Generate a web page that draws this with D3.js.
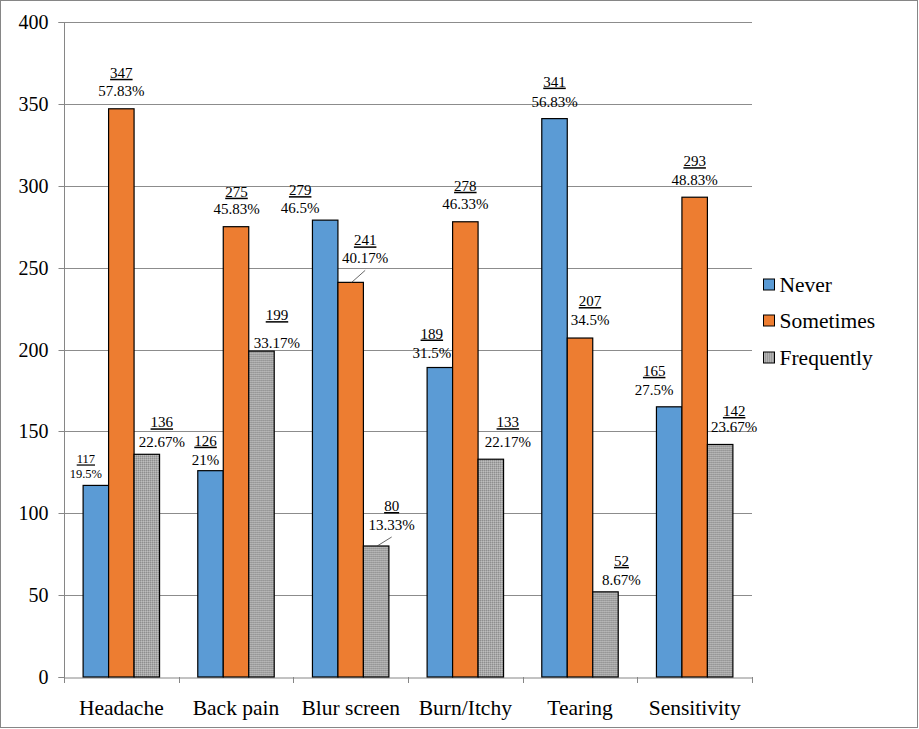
<!DOCTYPE html>
<html>
<head>
<meta charset="utf-8">
<script src="https://cdn.jsdelivr.net/npm/d3@7"></script>
<style>
  html, body { margin: 0; padding: 0; background: #fff; }
  svg text { font-family: "Liberation Serif", "Times New Roman", Times, "DejaVu Serif", serif !important; }
</style>
</head>
<body>
<svg id="chart" width="919" height="729"></svg>
<script>
// ---- data ----
const categories = ["Headache", "Back pain", "Blur screen", "Burn/Itchy", "Tearing", "Sensitivity"];
const seriesNames = ["Never", "Sometimes", "Frequently"];
const never      = [117, 126, 279, 189, 341, 165];
const sometimes  = [347, 275, 241, 278, 207, 293];
const frequently = [136, 199, 80, 133, 52, 142];
const neverPct      = ["19.5%", "21%", "46.5%", "31.5%", "56.83%", "27.5%"];
const sometimesPct  = ["57.83%", "45.83%", "40.17%", "46.33%", "34.5%", "48.83%"];
const frequentlyPct = ["22.67%", "33.17%", "13.33%", "22.17%", "8.67%", "23.67%"];
const yTicks = [0, 50, 100, 150, 200, 250, 300, 350, 400];

// ---- label placement (style, not data): [dx, number baseline above bar top, percent baseline above bar top] ----
const labelPlacement = {
  Never:      [[-10, 22, 7], [-5, 25, 6], [-25, 25, 7], [-8, 29, 10], [0, 32, 12], [-15, 31, 12]],
  Sometimes:  [[0, 31, 13], [0.5, 30, 13], [14.5, 37, 19], [0, 31, 13], [10, 32, 13], [0, 31, 12]],
  Frequently: [[15, 27, 7], [15.5, 31, 3], [15.5, 35, 16], [17, 32, 12], [16, 26, 7], [14, 28.5, 12.5]]
};
const leaderLabels = [["Sometimes", 2], ["Frequently", 2]];
const smallLabels = [["Never", 0]];

const colors = { Never: "#5B9BD5", Sometimes: "#ED7D31", Frequently: "url(#grayDots)" };

const valuesBySeries = { Never: never, Sometimes: sometimes, Frequently: frequently };
const pctBySeries = { Never: neverPct, Sometimes: sometimesPct, Frequently: frequentlyPct };

const svg = d3.select("#chart");

// pattern for gray textured bars
const defs = svg.append("defs");
const pat = defs.append("pattern").attr("id", "grayDots")
  .attr("patternUnits", "userSpaceOnUse").attr("width", 2).attr("height", 2);
pat.append("rect").attr("width", 2).attr("height", 2).attr("fill", "#A8A8A8");
pat.append("rect").attr("x", 0).attr("y", 0).attr("width", 1).attr("height", 1).attr("fill", "#8E8E8E");
pat.append("rect").attr("x", 1).attr("y", 1).attr("width", 1).attr("height", 1).attr("fill", "#BDBDBD");

// outer border
svg.append("rect").attr("x", 0.5).attr("y", 0.5).attr("width", 917).attr("height", 727)
  .attr("fill", "none").attr("stroke", "#868686").attr("stroke-width", 1);

const plotL = 64, plotR = 752, plotT = 22, plotB = 677;

const x0 = d3.scaleBand().domain(categories).range([plotL, plotR]).paddingInner(0).paddingOuter(0);
const x1 = d3.scaleBand().domain(seriesNames).range([0, x0.bandwidth()]).paddingInner(0).paddingOuter(0.75);
const y = d3.scaleLinear().domain([0, 400]).range([plotB, plotT]);

// gridlines
svg.append("g").selectAll("line").data(yTicks.filter(d => d > 0)).join("line")
  .attr("x1", plotL).attr("x2", plotR)
  .attr("y1", d => Math.round(y(d)) + 0.5).attr("y2", d => Math.round(y(d)) + 0.5)
  .attr("stroke", "#8C8C8C").attr("stroke-width", 1);

// y axis
const yAxis = svg.append("g").attr("transform", `translate(${plotL + 0.5},0)`)
  .call(d3.axisLeft(y).tickValues(yTicks).tickSize(6).tickPadding(10).tickFormat(d3.format("d")));
yAxis.attr("font-family", null);
yAxis.select(".domain").attr("stroke", "#868686").attr("d", `M-6,${plotB + 0.5}H0V${plotT + 0.5}H-6`);
yAxis.selectAll(".tick line").attr("stroke", "#868686");
yAxis.selectAll(".tick text").attr("font-size", 20).attr("fill", "#000").attr("dy", "0.34em");
yAxis.selectAll(".tick").attr("transform", d => `translate(0,${Math.round(y(d)) + 0.5})`);

// x axis
const xAxis = svg.append("g").attr("transform", `translate(0,${plotB + 0.5})`)
  .call(d3.axisBottom(x0).tickSize(0).tickPadding(22));
xAxis.attr("font-family", null);
xAxis.select(".domain").attr("stroke", "#868686");
xAxis.selectAll(".tick text").attr("font-size", 21.5).attr("fill", "#000");
// category boundary ticks
const bounds = categories.map(c => x0(c)).concat([plotR]);
svg.append("g").selectAll("line").data(bounds).join("line")
  .attr("x1", d => Math.round(d) + 0.5).attr("x2", d => Math.round(d) + 0.5)
  .attr("y1", plotB).attr("y2", plotB + 6)
  .attr("stroke", "#868686");

// bars
const groups = svg.append("g").selectAll("g").data(categories).join("g")
  .attr("transform", c => `translate(${x0(c)},0)`);
groups.selectAll("rect")
  .data((c, i) => seriesNames.map(s => ({ s, v: valuesBySeries[s][i] })))
  .join("rect")
  .attr("x", d => x1(d.s))
  .attr("y", d => y(d.v))
  .attr("width", x1.bandwidth())
  .attr("height", d => plotB - y(d.v))
  .attr("fill", d => colors[d.s])
  .attr("stroke", "#000").attr("stroke-width", 1.2);

// labels
const labelG = svg.append("g");
seriesNames.forEach(s => {
  categories.forEach((c, i) => {
    const v = valuesBySeries[s][i];
    const cx = x0(c) + x1(s) + x1.bandwidth() / 2;
    const ty = y(v);
    const [dx, nAbove, pAbove] = labelPlacement[s][i];
    const small = smallLabels.some(([ss, ii]) => ss === s && ii === i);
    const fs = small ? 12.5 : 15;
    const lx = cx + dx;
    labelG.append("text").attr("x", lx).attr("y", ty - nAbove)
      .attr("text-anchor", "middle").attr("font-size", fs)
      .style("text-decoration", "underline").text(v);
    labelG.append("text").attr("x", lx).attr("y", ty - pAbove)
      .attr("text-anchor", "middle").attr("font-size", fs)
      .text(pctBySeries[s][i]);
    if (leaderLabels.some(([ss, ii]) => ss === s && ii === i)) {
      labelG.append("line")
        .attr("x1", lx).attr("y1", ty - pAbove + 7)
        .attr("x2", cx + 1).attr("y2", ty)
        .attr("stroke", "#404040").attr("stroke-width", 0.8);
    }
  });
});

// legend
const legendY = [284.5, 320.5, 357.5];
const legend = svg.append("g").selectAll("g").data(seriesNames).join("g")
  .attr("transform", (d, i) => `translate(763,${legendY[i]})`);
legend.append("rect").attr("x", 0.5).attr("y", -5.5).attr("width", 11).attr("height", 11)
  .attr("fill", d => colors[d]).attr("stroke", "#000").attr("stroke-width", 1);
legend.append("text").attr("x", 16.5).attr("y", 0).attr("dy", "0.34em")
  .attr("font-size", 21.5).attr("fill", "#000").text(d => d);
</script>
</body>
</html>
